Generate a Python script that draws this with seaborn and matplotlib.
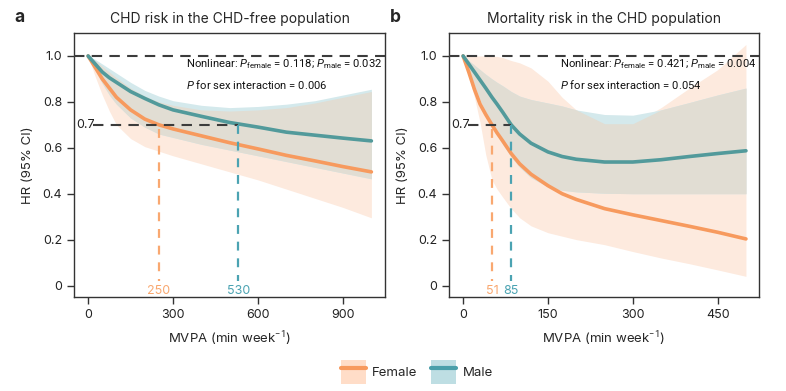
import numpy as np
import pandas as pd
import matplotlib
matplotlib.use("Agg")
import matplotlib.pyplot as plt
import seaborn as sns
from matplotlib.patches import Patch
from matplotlib.lines import Line2D

## Datos
# Panel a: CHD risk in the CHD-free population
x_a = [0, 25, 50, 75, 100, 150, 200, 250, 300, 400, 500, 600, 700, 800, 900, 1000]
fem_a = [1.0, 0.95, 0.90, 0.86, 0.82, 0.765, 0.725, 0.70, 0.682, 0.652, 0.622, 0.595, 0.567, 0.543, 0.518, 0.495]
fem_a_lo = [1.0, 0.91, 0.83, 0.76, 0.70, 0.64, 0.605, 0.585, 0.565, 0.53, 0.495, 0.46, 0.42, 0.38, 0.34, 0.295]
fem_a_hi = [1.0, 0.98, 0.955, 0.93, 0.905, 0.86, 0.825, 0.80, 0.785, 0.765, 0.76, 0.765, 0.775, 0.795, 0.82, 0.845]
male_a = [1.0, 0.965, 0.93, 0.905, 0.885, 0.845, 0.815, 0.787, 0.765, 0.737, 0.71, 0.69, 0.668, 0.655, 0.642, 0.63]
male_a_lo = [1.0, 0.94, 0.88, 0.83, 0.79, 0.73, 0.69, 0.66, 0.645, 0.615, 0.59, 0.565, 0.54, 0.515, 0.49, 0.465]
male_a_hi = [1.0, 0.985, 0.965, 0.945, 0.925, 0.885, 0.85, 0.825, 0.805, 0.785, 0.775, 0.78, 0.79, 0.805, 0.83, 0.855]

# Panel b: Mortality risk in the CHD population
x_b = [0, 10, 20, 30, 40, 51, 60, 70, 85, 100, 120, 150, 175, 200, 250, 300, 350, 400, 450, 500]
fem_b = [1.0, 0.93, 0.855, 0.79, 0.745, 0.70, 0.665, 0.63, 0.575, 0.53, 0.485, 0.435, 0.40, 0.375, 0.335, 0.308, 0.283, 0.258, 0.232, 0.203]
fem_b_lo = [1.0, 0.91, 0.82, 0.71, 0.57, 0.46, 0.42, 0.385, 0.335, 0.295, 0.26, 0.23, 0.215, 0.20, 0.178, 0.148, 0.12, 0.095, 0.068, 0.04]
fem_b_hi = [1.0, 1.0, 1.0, 1.0, 1.0, 1.0, 0.998, 0.993, 0.98, 0.97, 0.948, 0.89, 0.82, 0.765, 0.705, 0.705, 0.775, 0.86, 0.94, 1.05]
male_b = [1.0, 0.965, 0.93, 0.895, 0.86, 0.82, 0.79, 0.755, 0.70, 0.66, 0.62, 0.582, 0.562, 0.55, 0.538, 0.538, 0.548, 0.562, 0.575, 0.587]
male_b_lo = [1.0, 0.94, 0.875, 0.81, 0.755, 0.70, 0.655, 0.615, 0.56, 0.515, 0.47, 0.43, 0.415, 0.408, 0.402, 0.40, 0.40, 0.40, 0.40, 0.40]
male_b_hi = [1.0, 0.98, 0.96, 0.94, 0.92, 0.90, 0.885, 0.87, 0.845, 0.825, 0.81, 0.795, 0.782, 0.765, 0.745, 0.742, 0.765, 0.797, 0.83, 0.86]

cut_a = {"Female": 250, "Male": 530}
cut_b = {"Female": 51, "Male": 85}
pvals_a = ("0.118", "0.032", "0.006")
pvals_b = ("0.421", "0.004", "0.054")

# Colores
C_FEM = "#F79A5E"
C_MALE = "#529A9B"
C_FEM_V = "#F9A870"
C_MALE_V = "#4BA3B2"
C_FEM_BAND = "#FDEADE"
C_MALE_BAND = "#D4E9EC"
C_OVERLAP = "#E1DDD3"
C_DASH = "#3C3C3C"

sns.set_style("ticks")
plt.rcParams["font.family"] = ["Inter", "DejaVu Sans"]
plt.rcParams["mathtext.fontset"] = "custom"
plt.rcParams["mathtext.rm"] = "Roboto"
plt.rcParams["mathtext.it"] = "Roboto:italic"
plt.rcParams["axes.edgecolor"] = "#333333"
plt.rcParams["axes.linewidth"] = 1.0

fig = plt.figure(figsize=(7.86, 3.91), dpi=100)
ax_a = fig.add_axes([0.0941, 0.2404, 0.3957, 0.6752])
ax_b = fig.add_axes([0.5712, 0.2404, 0.3944, 0.6752])


def draw_panel(ax, x, fem, flo, fhi, male, mlo, mhi, cuts, pv, xlim, xticks, title, letter, ann_x):
    df = pd.DataFrame({"x": x, "fem": fem, "flo": flo, "fhi": fhi,
                       "male": male, "mlo": mlo, "mhi": mhi})
    ax.fill_between(df["x"], df["flo"], df["fhi"], color=C_FEM_BAND, lw=0, zorder=1)
    ax.fill_between(df["x"], df["mlo"], df["mhi"], color=C_MALE_BAND, lw=0, zorder=1)
    lo = np.maximum(df["flo"], df["mlo"])
    hi = np.minimum(df["fhi"], df["mhi"])
    ax.fill_between(df["x"], lo, hi, where=hi >= lo, interpolate=True,
                    color=C_OVERLAP, lw=0, zorder=2)
    sns.lineplot(data=df, x="x", y="fem", ax=ax, color=C_FEM, lw=2.6, zorder=4)
    sns.lineplot(data=df, x="x", y="male", ax=ax, color=C_MALE, lw=2.6, zorder=4)

    ax.set_xlim(*xlim)
    ax.set_ylim(-0.05, 1.1)

    # líneas de referencia
    ax.axhline(1.0, color=C_DASH, lw=1.5, dashes=(5, 3.5), zorder=5)
    span = xlim[1] - xlim[0]
    ax.plot([xlim[0] + span * 0.06, cuts["Male"]], [0.7, 0.7], color=C_DASH,
            lw=1.5, dashes=(5, 3.5), zorder=5)
    ax.text(xlim[0] + span * 0.008, 0.7, "0.7", fontsize=9, va="center", ha="left",
            color="#222222", zorder=6)
    ax.plot([cuts["Female"]] * 2, [0.68, 0.02], color=C_FEM_V, lw=1.6,
            dashes=(4, 3.5), zorder=5)
    ax.plot([cuts["Male"]] * 2, [0.70, 0.02], color=C_MALE_V, lw=1.6,
            dashes=(4, 3.5), zorder=5)
    ax.text(cuts["Female"], -0.022, str(cuts["Female"]), color=C_FEM_V, fontsize=9,
            ha="center", va="center")
    ax.text(cuts["Male"], -0.022, str(cuts["Male"]), color=C_MALE_V, fontsize=9,
            ha="center", va="center")

    ax.text(ann_x, 0.962,
            r"Nonlinear: $P_{\mathrm{female}}$ = " + pv[0] + r"; $P_{\mathrm{male}}$ = " + pv[1],
            fontsize=8.1, family="Roboto", va="center", ha="left", color="#111111", zorder=6)
    ax.text(ann_x, 0.875, r"$P$ for sex interaction = " + pv[2],
            fontsize=8.1, family="Roboto", va="center", ha="left", color="#111111", zorder=6)

    ax.set_xticks(xticks)
    ax.set_yticks([0, 0.2, 0.4, 0.6, 0.8, 1.0])
    ax.set_yticklabels(["0", "0.2", "0.4", "0.6", "0.8", "1.0"])
    ax.tick_params(labelsize=9, length=5, width=1, colors="#333333", labelcolor="#222222")
    ax.set_xlabel("MVPA (min week$^{-1}$)", fontsize=9.5, labelpad=6)
    ax.set_ylabel("HR (95% CI)", fontsize=9.5, labelpad=6)
    ax.set_title(title, fontsize=10, pad=7)
    ax.text(-0.19, 1.06, letter, transform=ax.transAxes, fontsize=12.5,
            fontweight="bold", va="center", ha="left")


draw_panel(ax_a, x_a, fem_a, fem_a_lo, fem_a_hi, male_a, male_a_lo, male_a_hi,
           cut_a, pvals_a, (-50, 1048), [0, 300, 600, 900],
           "CHD risk in the CHD-free population", "a", 346)
draw_panel(ax_b, x_b, fem_b, fem_b_lo, fem_b_hi, male_b, male_b_lo, male_b_hi,
           cut_b, pvals_b, (-25, 523), [0, 150, 300, 450],
           "Mortality risk in the CHD population", "b", 171)

handles = [
    (Patch(facecolor="#FFDDC8", edgecolor="none"), Line2D([], [], color=C_FEM, lw=3)),
    (Patch(facecolor="#BEDEE3", edgecolor="none"), Line2D([], [], color="#4A9FAA", lw=3)),
]
fig.legend(handles, ["Female", "Male"], loc="center", bbox_to_anchor=(0.53, 0.049),
           ncol=2, frameon=False, fontsize=9.5, handlelength=1.9, handleheight=2.5,
           columnspacing=1.1, handletextpad=0.45)

plt.savefig("out.png", dpi=100)
